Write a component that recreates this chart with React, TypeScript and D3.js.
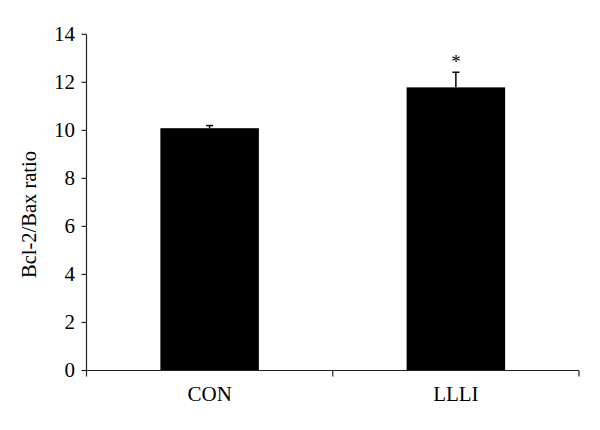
import React from "react";
import * as d3 from "d3";

const categories = ["CON", "LLLI"];
const values = [10.09, 11.79];
const errors = [0.11, 0.63];
const significance = ["", "*"];
const yTicks = [0, 2, 4, 6, 8, 10, 12, 14];
const yLabel = "Bcl-2/Bax ratio";

export default function App() {
  const W = 600, H = 430;
  const left = 86.5, right = 579, top = 34.3, bottom = 370.5;
  const x = d3.scaleBand<string>().domain(categories).range([left, right]).paddingInner(0.6).paddingOuter(0.3);
  const y = d3.scaleLinear().domain([0, 14]).range([bottom, top]);
  const band = d3.scaleBand<string>().domain(categories).range([left, right]);
  const font = "'Liberation Serif', 'Times New Roman', serif";
  const capW = 7;
  return (
    <svg width={W} height={H} style={{ position: "absolute", left: 0, top: 0, background: "#fff" }} fontFamily={font}>
      {categories.map((c, i) => {
        const bx = x(c)!;
        const bw = x.bandwidth();
        const cx = bx + bw / 2;
        return (
          <g key={c}>
            <rect x={bx} y={y(values[i])} width={bw} height={y(0) - y(values[i])} fill="#000" />
            <line x1={cx} x2={cx} y1={y(values[i])} y2={y(values[i] + errors[i])} stroke="#000" strokeWidth={1.5} />
            <line x1={cx - capW / 2} x2={cx + capW / 2} y1={y(values[i] + errors[i])} y2={y(values[i] + errors[i])} stroke="#000" strokeWidth={1.5} />
            {significance[i] && (
              <text x={cx} y={y(values[i] + errors[i]) - 4} textAnchor="middle" fontSize={19} fill="#000">{significance[i]}</text>
            )}
            <text x={band(c)! + band.bandwidth() / 2} y={401} textAnchor="middle" fontSize={21} fill="#000">{c}</text>
          </g>
        );
      })}
      <line x1={left} x2={left} y1={top} y2={bottom} stroke="#222" strokeWidth={1.2} />
      <line x1={left} x2={right} y1={bottom} y2={bottom} stroke="#222" strokeWidth={1.2} />
      {yTicks.map((t) => (
        <g key={t}>
          <line x1={left - 5} x2={left} y1={y(t)} y2={y(t)} stroke="#222" strokeWidth={1.2} />
          <text x={75} y={y(t)} dy="0.32em" textAnchor="end" fontSize={21} fill="#000">{t}</text>
        </g>
      ))}
      {[left, left + band.bandwidth(), right].map((v, i) => (
        <line key={i} x1={v} x2={v} y1={bottom} y2={bottom + 6} stroke="#222" strokeWidth={1.2} />
      ))}
      <text transform={`translate(36,214.5) rotate(-90)`} textAnchor="middle" fontSize={20.5} fill="#000">{yLabel}</text>
    </svg>
  );
}
